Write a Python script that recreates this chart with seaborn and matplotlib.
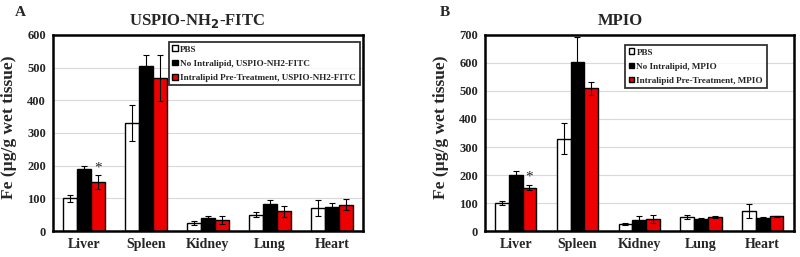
import numpy as np
import pandas as pd
import matplotlib
matplotlib.use("Agg")
import matplotlib.pyplot as plt
import seaborn as sns

organs = ["Liver", "Spleen", "Kidney", "Lung", "Heart"]

# panel A: USPIO-NH2-FITC
a_groups = ["PBS", "No Intralipid, USPIO-NH2-FITC", "Intralipid Pre-Treatment, USPIO-NH2-FITC"]
a_pbs = [100, 330, 25, 50, 70]
a_pbs_err = [10, 55, 5, 8, 25]
a_no = [190, 505, 40, 82, 75]
a_no_err = [10, 33, 5, 13, 12]
a_intra = [150, 468, 35, 60, 80]
a_intra_err = [20, 70, 12, 17, 17]

# panel B: MPIO
b_groups = ["PBS", "No Intralipid, MPIO", "Intralipid Pre-Treatment, MPIO"]
b_pbs = [100, 330, 25, 50, 70]
b_pbs_err = [8, 55, 5, 8, 25]
b_no = [200, 603, 38, 42, 45]
b_no_err = [15, 90, 15, 5, 5]
b_intra = [155, 510, 42, 50, 52]
b_intra_err = [10, 23, 14, 3, 3]

colors = ["white", "black", "#ee0000"]

sns.set_style("white")
plt.rcParams["font.family"] = ["Liberation Serif", "DejaVu Serif"]
plt.rcParams["font.weight"] = "bold"

fig = plt.figure(figsize=(8, 2.57), dpi=100)
axA = fig.add_axes([0.066, 0.101, 0.3875, 0.763])
axB = fig.add_axes([0.606, 0.101, 0.386, 0.763])


def panel(ax, groups, vals, errs, ymax, title, title_x, leg_anchor):
    rows = []
    for g, v, e in zip(groups, vals, errs):
        for o, vv, ee in zip(organs, v, e):
            rows.append({"organ": o, "group": g, "fe": vv, "err": ee})
    df = pd.DataFrame(rows)
    sns.barplot(data=df, x="organ", y="fe", hue="group", order=organs,
                hue_order=groups, palette=colors, saturation=1, errorbar=None,
                width=0.67, edgecolor="black", linewidth=1.0, ax=ax, zorder=2)
    # error bars at the centre of each bar
    for cont, g in zip(ax.containers, groups):
        sub = df[df["group"] == g].set_index("organ").loc[organs]
        xs = [p.get_x() + p.get_width() / 2 for p in cont]
        ax.errorbar(xs, sub["fe"], yerr=sub["err"], fmt="none", ecolor="black",
                    elinewidth=0.8, capsize=2.5, capthick=0.8, zorder=3)
    # star above liver intralipid bar
    p = ax.containers[2][0]
    top = df[(df["group"] == groups[2]) & (df["organ"] == "Liver")]
    ax.text(p.get_x() + p.get_width() / 2, top["fe"].iloc[0] + top["err"].iloc[0] + ymax * 0.005,
            "*", ha="center", va="bottom", fontsize=11, fontweight="normal")
    ax.set_xlim(-0.5, 4.5)
    ax.set_ylim(0, ymax)
    ax.set_yticks(np.arange(0, ymax + 1, 100))
    ax.yaxis.grid(True, color="#d9d9d9", lw=0.8, zorder=0)
    ax.set_axisbelow(True)
    ax.set_xlabel("")
    ax.set_ylabel("Fe (µg/g wet tissue)", fontsize=12.5, fontweight="bold", labelpad=6)
    ax.yaxis.set_label_coords(-0.115, 0.53)
    ax.tick_params(axis="y", labelsize=9, length=0, pad=5)
    ax.tick_params(axis="x", labelsize=10, length=0, pad=5)
    for lab in ax.get_xticklabels() + ax.get_yticklabels():
        lab.set_fontweight("bold")
    for s in ax.spines.values():
        s.set_linewidth(1.8)
        s.set_color("black")
    ax.set_title(title, fontsize=12, fontweight="bold", pad=7, x=title_x)
    leg = ax.legend(loc="upper right", bbox_to_anchor=leg_anchor, fontsize=6.6,
                    frameon=True, fancybox=False, handlelength=0.6, handleheight=0.6,
                    handletextpad=0.25, borderpad=0.4, labelspacing=0.65,
                    borderaxespad=0)
    leg.get_frame().set_edgecolor("black")
    leg.get_frame().set_linewidth(1.3)
    for t in leg.get_texts():
        t.set_fontweight("bold")


panel(axA, a_groups, [a_pbs, a_no, a_intra], [a_pbs_err, a_no_err, a_intra_err],
      600, "USPIO-NH$_\\mathbf{2}$-FITC", 0.465, (0.99, 0.965))
panel(axB, b_groups, [b_pbs, b_no, b_intra], [b_pbs_err, b_no_err, b_intra_err],
      700, "MPIO", 0.44, (0.913, 0.95))

fig.text(0.019, 0.95, "A", fontsize=11, fontweight="bold", ha="left", va="center")
fig.text(0.55, 0.95, "B", fontsize=11, fontweight="bold", ha="left", va="center")

fig.savefig("out.png", dpi=100)
